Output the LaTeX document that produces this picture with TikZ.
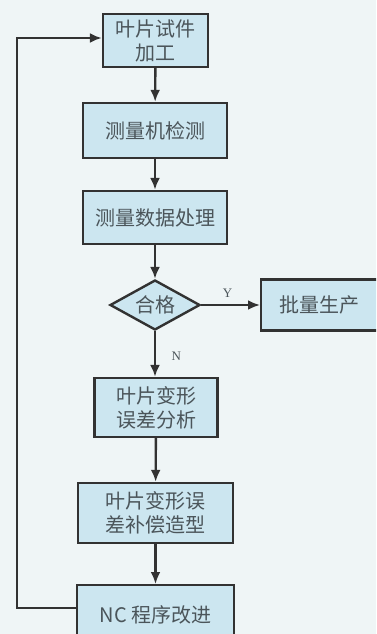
\documentclass[tikz,border=0pt]{standalone}
\usepackage{fontspec}
\setmainfont{Liberation Serif}
\newfontfamily\cjk{Noto Sans CJK SC}
\usetikzlibrary{shapes.geometric,arrows.meta}
\definecolor{bgc}{RGB}{239,245,246}
\definecolor{boxfill}{RGB}{204,230,240}
\definecolor{edgec}{RGB}{50,50,50}
\definecolor{txtc}{RGB}{75,85,90}
\tikzset{
  flowbox/.style={draw=edgec, line width=2.4pt, fill=boxfill, rectangle, inner sep=0pt,
    align=center, text=txtc, font=\cjk\fontsize{20}{24}\selectfont},
  decbox/.style={draw=edgec, line width=2.4pt, fill=boxfill, diamond, inner sep=0pt,
    minimum width=90pt, minimum height=50pt, aspect=1.8, text=txtc, font=\cjk\fontsize{20}{24}\selectfont},
  conn/.style={draw=edgec, line width=2.4pt, -{Latex[length=12pt,width=10pt]}},
  lbl/.style={text=txtc, font=\fontsize{13}{15}\selectfont}
}
\begin{document}
\begin{tikzpicture}[x=1pt,y=-1pt]
\useasboundingbox (0,0) rectangle (376,634);
\clip (0,0) rectangle (376,634);
\fill[bgc] (0,0) rectangle (376,634);
\node[flowbox, minimum width=105pt, minimum height=53pt] (b1) at (155.5,40.5) {叶片试件\\加工};
\node[flowbox, minimum width=144pt, minimum height=55pt] (b2) at (155,130.5) {测量机检测};
\node[flowbox, minimum width=144pt, minimum height=53pt] (b3) at (155,217.5) {测量数据处理};
\node[decbox] (d) at (155,305) {合格};
\node[flowbox, minimum width=130pt, minimum height=51pt, anchor=west] (bY) at (260,305) {\hspace*{-14pt}批量生产};
\node[flowbox, minimum width=123pt, minimum height=59pt] (b5) at (156,407.5) {叶片变形\\误差分析};
\node[flowbox, minimum width=155pt, minimum height=60pt] (b6) at (155.5,513) {叶片变形误\\差补偿造型};
\node[flowbox, minimum width=157pt, minimum height=60pt, anchor=north] (b7) at (155.5,584) {NC 程序改进};
\coordinate (c1) at (17,608);
\coordinate (c2) at (17,38);
\draw[conn] (b1) -- (b2);
\draw[conn] (b2) -- (b3);
\draw[conn] (b3) -- (d);
\draw[conn] (d.east) -- node[lbl, above, pos=0.45, yshift=3pt] {Y} (bY.west);
\draw[conn] (d.south) -- node[lbl, right, pos=0.5, xshift=12pt, yshift=-2pt] {N} (b5.north -| d.south);
\draw[conn] (b5) -- (b6);
\draw[conn] (b6) -- (b7);
\draw[conn] (b7.west |- c1) -- (c1) -- (c2) -- (b1.west |- c2);
\end{tikzpicture}
\end{document}
